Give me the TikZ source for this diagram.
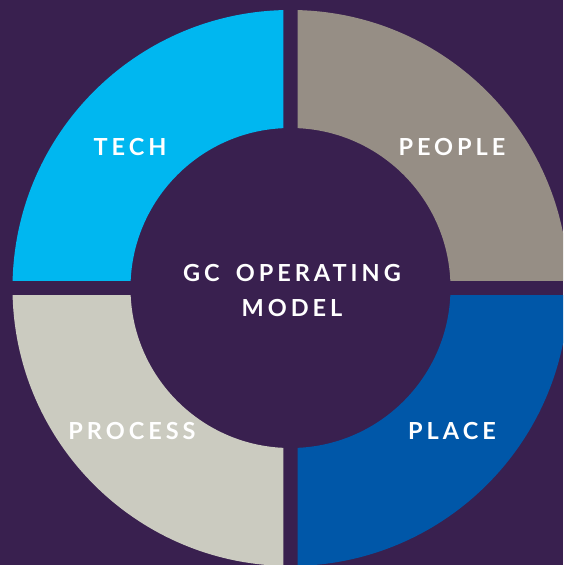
\documentclass[tikz,border=0pt]{standalone}
\usepackage{fontspec}
\setmainfont{Lato}
\usepackage{xcolor}
\usetikzlibrary{positioning}
\definecolor{bgpurple}{HTML}{39204F}
\definecolor{techcol}{HTML}{00B7F0}
\definecolor{peoplecol}{HTML}{968E85}
\definecolor{processcol}{HTML}{CBCBC0}
\definecolor{placecol}{HTML}{0057A8}

\begin{document}
\begin{tikzpicture}[x=1pt, y=-1pt,
		lbl/.style={text=white, inner sep=0pt, anchor=base, font=\fontsize{23.5}{28}\selectfont\bfseries\addfontfeature{LetterSpace=17}}]
		\fill[bgpurple] (0,0) rectangle (563,565);
		\useasboundingbox (0,0) rectangle (563,565);
		\clip (0,0) rectangle (563,565);
		\coordinate (c) at (290.5,288);
		% four quarters of the ring
		\foreach \col/\xa/\ya/\xb/\yb in {techcol/0/0/283.3/280.7, peoplecol/297.7/0/563/280.7,
			processcol/0/295.3/283.3/565, placecol/297.7/295.3/563/565} {
			\begin{scope}
				\clip (\xa,\ya) rectangle (\xb,\yb);
				\fill[\col, even odd rule] (c) circle[radius=278pt] (c) circle[radius=160pt];
			\end{scope}
		}
		\node[lbl] (tech) at (130,155) {TECH};
		\node[lbl] (people) at (452,155) {PEOPLE};
		\node[lbl] (process) at (132,439) {PROCESS};
		\node[lbl] (place) at (452,439) {PLACE};
		\node[lbl] (gc) at (292,281) {GC\hspace{16pt}OPERATING};
		\node[lbl] (model) at (292,316) {MODEL};
	\end{tikzpicture}
\end{document}
